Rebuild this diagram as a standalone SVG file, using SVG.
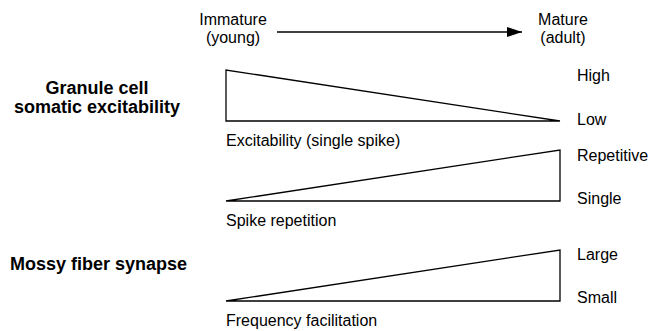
<svg xmlns="http://www.w3.org/2000/svg" width="660" height="331" viewBox="0 0 660 331">
<style>
text{font-family:"Liberation Sans",Arial,sans-serif;font-size:16px;fill:#000}
.b{font-weight:bold;font-size:18px}
.m{text-anchor:middle}
.tri{fill:none;stroke:#000;stroke-width:1.3}
</style>
<defs><marker id="ah" markerWidth="15" markerHeight="10" refX="15" refY="5" orient="auto" markerUnits="userSpaceOnUse"><path d="M0,0L15,5L0,10Z" fill="#000"/></marker></defs>
<rect width="660" height="331" fill="#fff"/>
<g id="axis">
<text class="m" x="233" y="25">Immature</text>
<text class="m" x="233" y="43">(young)</text>
<text class="m" x="563" y="25">Mature</text>
<text class="m" x="563" y="43">(adult)</text>
</g>
<g id="connectors"><line x1="277" y1="32" x2="522" y2="32" stroke="#000" stroke-width="1.3" marker-end="url(#ah)"/></g>
<g id="excitability">
<text class="b m" x="97" y="94">Granule cell</text>
<text class="b m" x="97" y="113">somatic excitability</text>
<polygon class="tri" points="226,70 226,121 560,121"/>
<text x="577" y="81">High</text>
<text x="577" y="125">Low</text>
<text x="226" y="146">Excitability (single spike)</text>
</g>
<g id="repetition">
<polygon class="tri" points="226,201 560,201 560,150"/>
<text x="577" y="161">Repetitive</text>
<text x="577" y="204">Single</text>
<text x="226" y="226">Spike repetition</text>
</g>
<g id="facilitation">
<text class="b" x="10" y="270">Mossy fiber synapse</text>
<polygon class="tri" points="226,301 560,301 560,250"/>
<text x="577" y="260">Large</text>
<text x="577" y="303">Small</text>
<text x="226" y="326">Frequency facilitation</text>
</g>
</svg>
